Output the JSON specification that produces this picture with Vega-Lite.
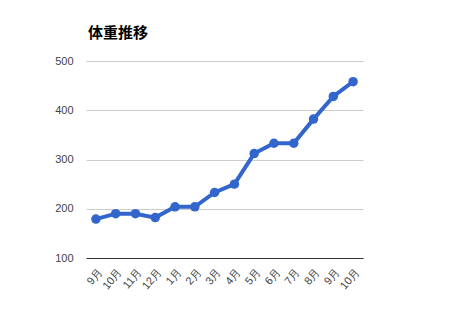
{
  "$schema": "https://vega.github.io/schema/vega-lite/v6.json",
  "autosize": "none",
  "width": 277,
  "height": 197,
  "padding": {"left": 86, "top": 61, "right": 87, "bottom": 62},
  "background": "white",
  "title": {"text": "体重推移", "anchor": "start", "frame": "group", "font": "Noto Sans CJK JP", "fontSize": 15, "fontWeight": "bold", "color": "#000000", "offset": 14, "dx": 2},
  "data": {"values": [
    {"idx": 0, "month": "9月", "weight": 179},
    {"idx": 1, "month": "10月", "weight": 190},
    {"idx": 2, "month": "11月", "weight": 190},
    {"idx": 3, "month": "12月", "weight": 182},
    {"idx": 4, "month": "1月", "weight": 204},
    {"idx": 5, "month": "2月", "weight": 204},
    {"idx": 6, "month": "3月", "weight": 233},
    {"idx": 7, "month": "4月", "weight": 250},
    {"idx": 8, "month": "5月", "weight": 312},
    {"idx": 9, "month": "6月", "weight": 333},
    {"idx": 10, "month": "7月", "weight": 333},
    {"idx": 11, "month": "8月", "weight": 382},
    {"idx": 12, "month": "9月", "weight": 428},
    {"idx": 13, "month": "10月", "weight": 458}
  ]},
  "config": {"view": {"stroke": null}},
  "mark": {"type": "line", "color": "#3366CC", "strokeWidth": 4, "point": {"filled": true, "size": 90, "color": "#3366CC"}},
  "encoding": {
    "x": {
      "field": "idx", "type": "ordinal",
      "scale": {"type": "point", "padding": 0.5},
      "axis": {
        "title": null,
        "labelExpr": "['9月','10月','11月','12月','1月','2月','3月','4月','5月','6月','7月','8月','9月','10月'][datum.value]",
        "labelAngle": -50, "labelAlign": "right", "labelBaseline": "middle",
        "labelFont": "Liberation Sans", "labelFontSize": 11, "labelColor": "#444444",
        "ticks": false, "labelPadding": 12, "labelOffset": 4,
        "domainColor": "#333333", "domainWidth": 1, "grid": false
      }
    },
    "y": {
      "field": "weight", "type": "quantitative",
      "scale": {"domain": [100, 500], "nice": false, "zero": false},
      "axis": {
        "title": null, "values": [100, 200, 300, 400, 500],
        "ticks": false, "domain": false, "labelPadding": 13,
        "labelFont": "Liberation Sans", "labelFontSize": 11, "labelColor": "#444444",
        "gridColor": "#cccccc", "gridWidth": 1
      }
    }
  }
}
